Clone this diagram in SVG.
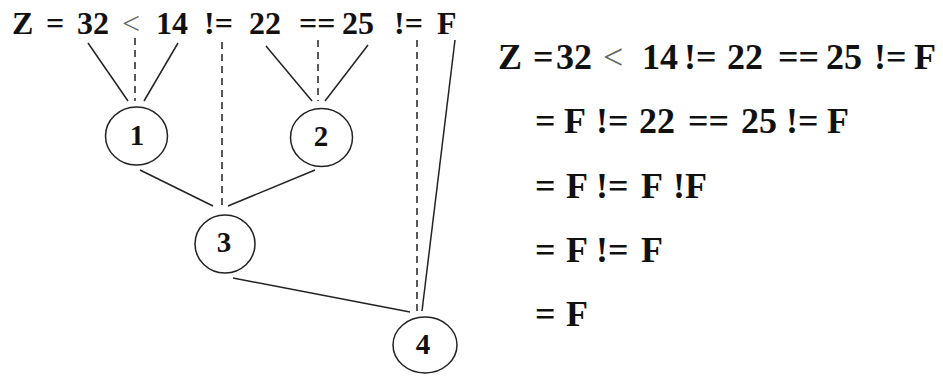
<svg xmlns="http://www.w3.org/2000/svg" width="943" height="376" viewBox="0 0 943 376">
<style>
text{font-family:"Liberation Serif","Times New Roman",Times,serif;font-weight:bold;fill:#111;}
.l text{font-size:32px;}
.r text{font-size:36px;}
text.lt{font-weight:normal;fill:#666;}
.n ellipse{fill:none;stroke:#222;stroke-width:1.5;}
.n text{font-size:29px;text-anchor:middle;}
.s{stroke:#222;stroke-width:1.5;fill:none;}
.d{stroke:#222;stroke-width:1.5;fill:none;stroke-dasharray:7 5;}
</style>
<rect width="943" height="376" fill="#fff"/>
<g id="expr-left" class="l">
<text x="12" y="34">Z</text>
<text x="46" y="34">=</text>
<text x="77" y="34">32</text>
<text x="122" y="34" class="lt">&lt;</text>
<text x="156" y="34">14</text>
<text x="204" y="34">!=</text>
<text x="249" y="34">22</text>
<text x="299" y="34">==</text>
<text x="342" y="34">25</text>
<text x="394" y="34">!=</text>
<text x="437" y="34">F</text>
</g>
<g id="connectors">
<line class="s" x1="88" y1="43" x2="128" y2="101"/>
<line class="d" x1="135" y1="38" x2="135" y2="101"/>
<line class="s" x1="178" y1="43" x2="144" y2="101"/>
<line class="d" x1="222" y1="42" x2="222" y2="207"/>
<line class="s" x1="266" y1="46" x2="312" y2="101"/>
<line class="d" x1="318" y1="40" x2="318" y2="101"/>
<line class="s" x1="368" y1="45" x2="325" y2="101"/>
<line class="d" x1="417" y1="40" x2="417" y2="311"/>
<line class="s" x1="455" y1="40" x2="422" y2="311"/>
<line class="s" x1="140" y1="170" x2="213" y2="206"/>
<line class="s" x1="315" y1="170" x2="228" y2="206"/>
<line class="s" x1="233" y1="278" x2="410" y2="312"/>
</g>
<g id="node1" class="n"><ellipse cx="136.5" cy="136" rx="31" ry="29"/><text x="137" y="145">1</text></g>
<g id="node2" class="n"><ellipse cx="321.5" cy="137.5" rx="31" ry="29"/><text x="321" y="146">2</text></g>
<g id="node3" class="n"><ellipse cx="225" cy="244" rx="30" ry="29"/><text x="224" y="252">3</text></g>
<g id="node4" class="n"><ellipse cx="425" cy="345" rx="32" ry="28"/><text x="423" y="354">4</text></g>
<g id="expr-right" class="r">
<text x="498" y="69">Z</text>
<text x="533" y="69">=</text>
<text x="556" y="69">32</text>
<text x="603" y="69" class="lt">&lt;</text>
<text x="642" y="69">14</text>
<text x="684" y="69">!=</text>
<text x="727" y="69">22</text>
<text x="778" y="69">==</text>
<text x="826" y="69">25</text>
<text x="874" y="69">!=</text>
<text x="914" y="69">F</text>
</g>
<g id="step2" class="r">
<text x="535" y="133">=</text>
<text x="564" y="133">F</text>
<text x="596" y="133">!=</text>
<text x="639" y="133">22</text>
<text x="688" y="133">==</text>
<text x="741" y="133">25</text>
<text x="786" y="133">!=</text>
<text x="827" y="133">F</text>
</g>
<g id="step3" class="r">
<text x="535" y="198">=</text>
<text x="566" y="198">F</text>
<text x="596" y="198">!=</text>
<text x="641" y="198">F</text>
<text x="673" y="198">!F</text>
</g>
<g id="step4" class="r">
<text x="535" y="262">=</text>
<text x="566" y="262">F</text>
<text x="596" y="262">!=</text>
<text x="641" y="262">F</text>
</g>
<g id="step5" class="r">
<text x="535" y="326">=</text>
<text x="566" y="326">F</text>
</g>
</svg>
